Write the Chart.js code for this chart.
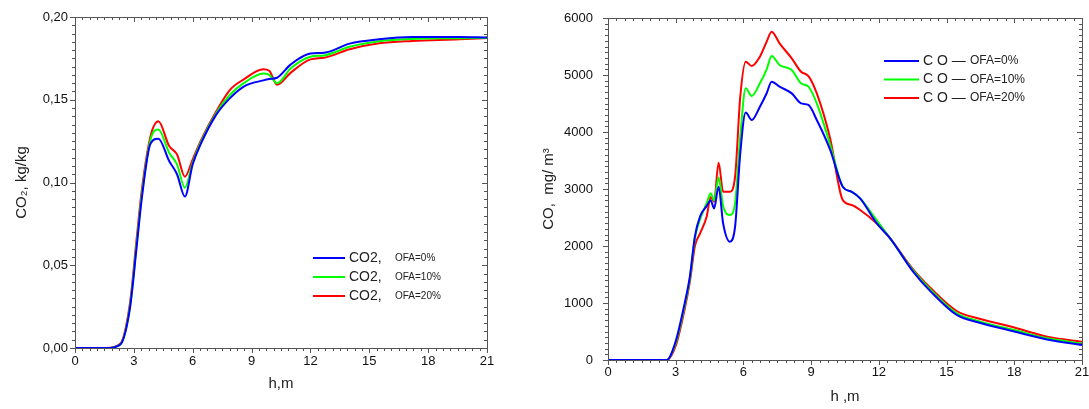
<!DOCTYPE html>
<html>
<head>
<meta charset="utf-8">
<script src="https://cdn.jsdelivr.net/npm/chart.js@4/dist/chart.umd.min.js"></script>
<style>
  body { margin: 0; background: #fff; width: 1089px; height: 409px; position: relative; overflow: hidden; }
  .box { position: absolute; top: 0; }
</style>
</head>
<body>
<div class="box" style="left:0"><canvas id="co2Chart" width="540" height="409"></canvas></div>
<div class="box" style="left:540px"><canvas id="coChart" width="549" height="409"></canvas></div>
<script>
// data
const seriesColors = ['#0000ff', '#00ff00', '#ff0000'];
const legendSub = ['OFA=0%', 'OFA=10%', 'OFA=20%'];
const xTicks = [0, 3, 6, 9, 12, 15, 18, 21];

const hCO2 = [0, 1.6, 2.3, 2.8, 3.15, 3.4, 3.85, 4.25, 4.8, 5.2, 5.6, 6.0, 6.4, 7.2, 7.9, 8.6, 9.6, 9.9, 10.3, 11.0, 12.0, 12.7, 14.0, 15.5, 17.2, 19.6, 21];
const co2_0 = [0, 0, 0.002, 0.024, 0.062, 0.090, 0.1235, 0.1265, 0.113, 0.105, 0.0915, 0.111, 0.123, 0.141, 0.151, 0.158, 0.1617, 0.1625, 0.1633, 0.1714, 0.178, 0.1784, 0.1839, 0.1865, 0.1879, 0.1879, 0.1876];
const co2_10 = [0, 0, 0.002, 0.025, 0.064, 0.092, 0.126, 0.132, 0.118, 0.111, 0.0968, 0.112, 0.124, 0.142, 0.153, 0.160, 0.1658, 0.1650, 0.160, 0.169, 0.176, 0.1768, 0.182, 0.1853, 0.1867, 0.1872, 0.1875];
const co2_20 = [0, 0, 0.0025, 0.027, 0.067, 0.095, 0.128, 0.137, 0.122, 0.117, 0.1035, 0.114, 0.125, 0.143, 0.156, 0.1623, 0.1684, 0.1675, 0.159, 0.1664, 0.1744, 0.1754, 0.1805, 0.1841, 0.1855, 0.1865, 0.1873];

const hCO = [0, 2.6, 3.0, 3.4, 3.63, 3.85, 4.08, 4.37, 4.55, 4.7, 4.9, 5.1, 5.4, 5.63, 5.86, 6.1, 6.37, 6.73, 7.03, 7.25, 7.6, 8.14, 8.55, 8.88, 9.25, 9.84, 10.4, 10.8, 11.17, 11.9, 12.5, 13.5, 14.3, 15.45, 16.5, 18.0, 19.45, 21];
const co_0 = [0, 0, 330, 1000, 1470, 2170, 2520, 2700, 2800, 2660, 3040, 2400, 2076, 2339, 3626, 4340, 4210, 4444, 4680, 4883, 4795, 4678, 4503, 4474, 4210, 3690, 3040, 2950, 2836, 2400, 2135, 1560, 1200, 790, 650, 500, 360, 263];
const co_10 = [0, 0, 300, 960, 1440, 2140, 2470, 2750, 2924, 2800, 3200, 2700, 2544, 2749, 3918, 4766, 4632, 4854, 5100, 5333, 5175, 5088, 4854, 4795, 4503, 3780, 3040, 2950, 2836, 2456, 2135, 1579, 1228, 819, 672, 526, 380, 290];
const co_20 = [0, 0, 250, 900, 1380, 2000, 2222, 2514, 2860, 2777, 3462, 2953, 2953, 3216, 4620, 5234, 5158, 5322, 5585, 5760, 5556, 5292, 5058, 4982, 4678, 3890, 2807, 2719, 2632, 2398, 2135, 1600, 1260, 860, 720, 570, 410, 322];

const FONT = 'Arial, "Liberation Sans", sans-serif';

const toPoints = (xs, ys) => xs.map((x, i) => ({ x, y: ys[i] }));

const makeDatasets = (xs, list, main) => list.map((ys, i) => ({
  label: main + ' ' + legendSub[i],
  data: toPoints(xs, ys),
  borderColor: seriesColors[i],
  borderWidth: 2,
  pointRadius: 0,
  fill: false,
  cubicInterpolationMode: 'monotone',
}));

// frame + major/minor tick marks on all four sides
const frameTicks = {
  id: 'frameTicks',
  afterDraw(chart, args, opts) {
    const { ctx, chartArea: a, scales: { x, y } } = chart;
    ctx.save();
    ctx.strokeStyle = '#555';
    ctx.lineWidth = 1;
    ctx.strokeRect(Math.round(a.left) + 0.5, Math.round(a.top) + 0.5, Math.round(a.width), Math.round(a.height));
    ctx.beginPath();
    const xs = opts.xMajor / opts.xDiv;
    for (let i = 0; x.min + i * xs <= x.max + 1e-9; i++) {
      const px = Math.round(x.getPixelForValue(x.min + i * xs)) + 0.5;
      const len = i % opts.xDiv === 0 ? 5 : 3;
      ctx.moveTo(px, a.bottom); ctx.lineTo(px, a.bottom + len);
      ctx.moveTo(px, a.top); ctx.lineTo(px, a.top + len);
    }
    const ys = opts.yMajor / opts.yDiv;
    for (let i = 0; y.min + i * ys <= y.max * (1 + 1e-9); i++) {
      const py = Math.round(y.getPixelForValue(y.min + i * ys)) + 0.5;
      const len = i % opts.yDiv === 0 ? 5 : 3;
      ctx.moveTo(a.left, py); ctx.lineTo(a.left - len, py);
      ctx.moveTo(a.right, py); ctx.lineTo(a.right - len, py);
    }
    ctx.stroke();
    ctx.restore();
  }
};

// legend drawn inside the plot, like the original
const innerLegend = {
  id: 'innerLegend',
  afterDraw(chart, args, opts) {
    const { ctx } = chart;
    ctx.save();
    ctx.textBaseline = 'middle';
    ctx.fillStyle = '#222';
    chart.data.datasets.forEach((ds, i) => {
      const y = opts.y + i * opts.gap;
      ctx.strokeStyle = ds.borderColor;
      ctx.lineWidth = 2;
      ctx.beginPath();
      ctx.moveTo(opts.x, y); ctx.lineTo(opts.x + opts.lineLen, y);
      ctx.stroke();
      ctx.font = opts.mainSize + 'px ' + FONT;
      ctx.fillText(opts.main, opts.x + opts.lineLen + 4, y);
      ctx.font = opts.subSize + 'px ' + FONT;
      ctx.fillText(legendSub[i], opts.subX, y);
    });
    ctx.restore();
  }
};

const makeOptions = (cfg) => ({
  responsive: false,
  animation: false,
  layout: { padding: cfg.padding },
  plugins: {
    legend: { display: false },
    tooltip: { enabled: false },
    frameTicks: cfg.frame,
    innerLegend: cfg.legend,
  },
  scales: {
    x: {
      type: 'linear', min: 0, max: 21,
      afterFit: (s) => { s.height = cfg.xHeight; s.paddingLeft = 4; s.paddingRight = 4; },
      afterBuildTicks: (s) => { s.ticks = xTicks.map(v => ({ value: v })); },
      grid: { display: false, drawTicks: false, tickLength: 0 },
      border: { display: false },
      ticks: { padding: cfg.xPad, color: '#111', font: { family: FONT, size: 13 }, maxRotation: 0 },
      title: { display: true, text: cfg.xTitle, color: '#222', font: { family: FONT, size: 15 }, padding: { bottom: cfg.xTitlePad } },
    },
    y: {
      min: cfg.yMin, max: cfg.yMax,
      afterFit: (s) => { s.width = cfg.yWidth; s.paddingTop = 4; s.paddingBottom = 4; },
      grid: { display: false, drawTicks: false, tickLength: 0 },
      border: { display: false },
      ticks: { stepSize: cfg.yStep, padding: cfg.yPad, color: '#111', font: { family: FONT, size: 13 }, callback: cfg.yFmt },
      title: { display: true, text: cfg.yTitle, color: '#222', font: { family: FONT, size: 15 }, padding: { top: cfg.yTitlePad } },
    },
  },
});

new Chart(document.getElementById('co2Chart'), {
  type: 'line',
  data: { datasets: makeDatasets(hCO2, [co2_0, co2_10, co2_20], 'CO2,') },
  options: makeOptions({
    padding: { left: 0, top: 17, right: 53, bottom: 0 },
    xHeight: 61, yWidth: 75, xPad: 6, yPad: 7,
    yMin: 0, yMax: 0.2, yStep: 0.05,
    yFmt: (v) => v.toFixed(2).replace('.', ','),
    xTitle: 'h,m', yTitle: 'CO\u2082, kg/kg', xTitlePad: 16, yTitlePad: 13,
    frame: { xMajor: 3, xDiv: 8, yMajor: 0.05, yDiv: 10 },
    legend: { x: 313, y: 258, gap: 19, lineLen: 32, main: 'CO2,', mainSize: 14, subX: 395, subSize: 10 },
  }),
  plugins: [frameTicks, innerLegend],
});

new Chart(document.getElementById('coChart'), {
  type: 'line',
  data: { datasets: makeDatasets(hCO, [co_0, co_10, co_20], 'CO \u2014') },
  options: makeOptions({
    padding: { left: 0, top: 18, right: 7, bottom: 0 },
    xHeight: 49, yWidth: 68, xPad: 5, yPad: 15,
    yMin: 0, yMax: 6000, yStep: 1000,
    yFmt: (v) => String(v),
    xTitle: 'h ,m', yTitle: 'CO,  mg/ m\u00b3', xTitlePad: 3, yTitlePad: 0,
    frame: { xMajor: 3, xDiv: 8, yMajor: 1000, yDiv: 10 },
    legend: { x: 344, y: 61, gap: 18.5, lineLen: 35, main: 'C O \u2014', mainSize: 14, subX: 430, subSize: 12 },
  }),
  plugins: [frameTicks, innerLegend],
});
</script>
</body>
</html>
